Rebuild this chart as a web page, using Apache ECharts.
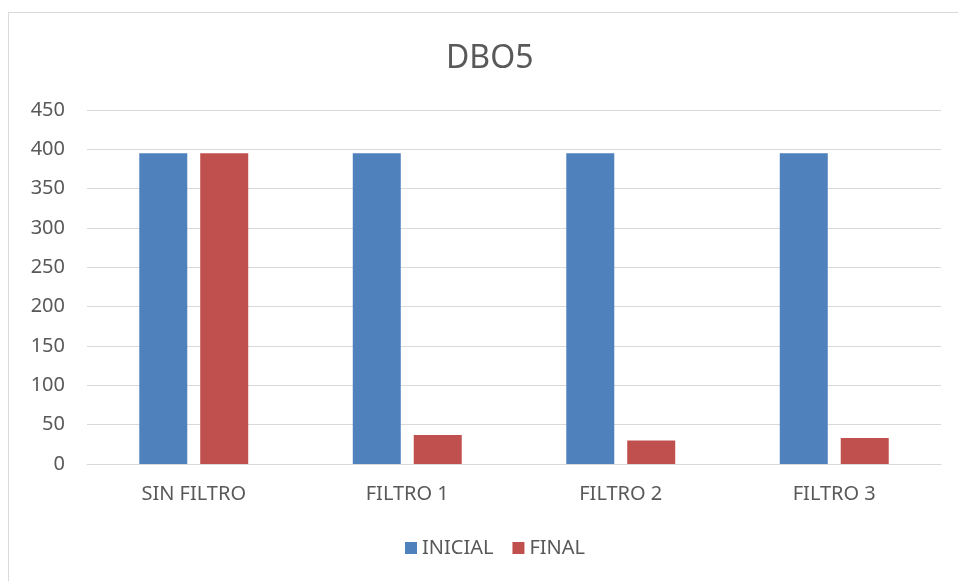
<!DOCTYPE html>
<html><head><meta charset="utf-8">
<script src="https://cdn.jsdelivr.net/npm/echarts@6/dist/echarts.min.js"></script>
<style>
html,body{margin:0;padding:0;background:#fff;}
#frame{position:absolute;left:8px;top:12px;width:980px;height:600px;border:1px solid #d9d9d9;box-sizing:border-box;}
#c{position:absolute;left:0;top:0;width:958px;height:581px;}
</style></head>
<body><div id="frame"></div><div id="c"></div>
<script>
const categories = ['SIN FILTRO', 'FILTRO 1', 'FILTRO 2', 'FILTRO 3'];
const inicial = [395, 395, 395, 395];
const finalVals = [395, 37, 30, 33];
const yTicks = {min: 0, max: 450, interval: 50};

const font = 'Noto Sans';
const chart = echarts.init(document.getElementById('c'), null, {renderer: 'canvas'});
chart.setOption({
  animation: false,
  title: {text: 'DBO5', left: 441, top: 38, itemGap: 0, textStyle: {fontFamily: font, fontSize: 32, fontWeight: 'normal', color: '#595959'}},
  grid: {left: 87, right: 17, top: 110, bottom: 117},
  legend: {bottom: 18, left: 400, itemWidth: 12, itemHeight: 12, itemGap: 19, icon: 'rect',
    textStyle: {fontFamily: font, fontSize: 20, color: '#595959'}, data: ['INICIAL', 'FINAL']},
  xAxis: {type: 'category', data: categories,
    axisLine: {lineStyle: {color: '#d9d9d9', width: 1}}, axisTick: {show: false},
    axisLabel: {fontFamily: font, fontSize: 20, color: '#595959', margin: 20}},
  yAxis: {type: 'value', min: yTicks.min, max: yTicks.max, interval: yTicks.interval,
    axisLine: {show: false}, axisTick: {show: false},
    splitLine: {lineStyle: {color: '#d9d9d9', width: 1}},
    axisLabel: {fontFamily: font, fontSize: 20, color: '#595959', margin: 22}},
  series: [
    {name: 'INICIAL', type: 'bar', data: inicial, barWidth: 48, barGap: '27%',
     itemStyle: {color: '#4f81bd'}},
    {name: 'FINAL', type: 'bar', data: finalVals, barWidth: 48,
     itemStyle: {color: '#c0504d'}}
  ]
});
</script></body></html>
